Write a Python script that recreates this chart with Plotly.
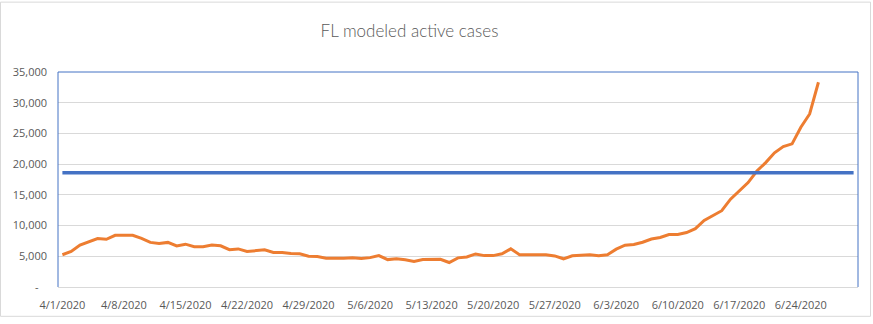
import pandas as pd
import plotly.graph_objects as go

# ---- data ----
dates = [d.strftime("%Y-%m-%d") for d in pd.date_range("2020-04-01", "2020-06-30", freq="D")]

active_cases = [
    5250, 5780, 6840, 7360, 7900, 7760, 8420, 8420, 8420, 7920,
    7260, 7100, 7260, 6680, 6970, 6550, 6550, 6840, 6710, 6070,
    6200, 5780, 5900, 6050, 5620, 5600, 5450, 5420, 5020, 4960,
    4690, 4650, 4660, 4750, 4630, 4780, 5120, 4460, 4590, 4430,
    4170, 4460, 4520, 4520, 3990, 4740, 4880, 5380, 5110, 5110,
    5400, 6210, 5270, 5260, 5260, 5250, 5060, 4590, 5080, 5210,
    5230, 5080, 5260, 6160, 6800, 6930, 7280, 7810, 8070, 8550,
    8550, 8870, 9500, 10830, 11620, 12420, 14300, 15600, 17000, 18880,
    20250, 21840, 22850, 23300, 26000, 28170, 33330,
]
threshold_value = 18600
threshold = [threshold_value] * len(dates)

y_tick_vals = [0, 5000, 10000, 15000, 20000, 25000, 30000, 35000]
y_tick_text = ["-\u00a0\u00a0\u00a0", "5,000", "10,000", "15,000", "20,000", "25,000", "30,000", "35,000"]

title_text = "FL modeled active cases"

# ---- figure ----
fig = go.Figure()
fig.add_trace(go.Scatter(
    x=dates[:len(active_cases)], y=active_cases, mode="lines",
    line=dict(color="#ED7D31", width=3), name="Active cases",
))
fig.add_trace(go.Scatter(
    x=dates, y=threshold, mode="lines",
    line=dict(color="#4472C4", width=3.5), name="Threshold",
))

label_font = dict(family="Open Sans, Lato, sans-serif", size=11, color="#595959")

fig.update_layout(
    width=873, height=324,
    margin=dict(l=58, r=15, t=72, b=32),
    paper_bgcolor="white", plot_bgcolor="white",
    showlegend=False,
    title=dict(
        text=title_text, x=409.5 / 873, xref="container", xanchor="center",
        y=1 - 31 / 324, yref="container", yanchor="middle",
        font=dict(family="Lato, Open Sans, sans-serif", size=17, color="#595959", weight=300),
    ),
    xaxis=dict(
        type="date",
        range=["2020-03-31 12:00", "2020-06-30 12:00"],
        tick0="2020-04-01", dtick=7 * 86400000,
        tickformat="%-m/%-d/%Y",
        showgrid=False, zeroline=False,
        showline=True, linecolor="#d9d9d9", linewidth=1,
        ticks="", tickfont=label_font, ticklabelstandoff=8,
    ),
    yaxis=dict(
        range=[0, 35000],
        tickvals=y_tick_vals, ticktext=y_tick_text,
        showgrid=True, gridcolor="#d9d9d9", gridwidth=1,
        zeroline=False, showline=False,
        ticks="", tickfont=label_font, ticklabelstandoff=10,
    ),
    shapes=[
        dict(type="line", xref="paper", yref="paper", x0=0, x1=0, y0=0, y1=1,
             line=dict(color="#4472C4", width=1)),
        dict(type="line", xref="paper", yref="paper", x0=0, x1=1, y0=1, y1=1,
             line=dict(color="#4472C4", width=1)),
        dict(type="line", xref="paper", yref="paper", x0=1, x1=1, y0=0, y1=1,
             line=dict(color="#4472C4", width=1)),
        dict(type="rect", xref="paper", yref="paper",
             x0=(0.5 - 58) / 800, x1=(870.5 - 58) / 800,
             y0=(292 - 322) / 220, y1=(292 - 0.5) / 220,
             line=dict(color="#d9d9d9", width=1), fillcolor="rgba(0,0,0,0)"),
    ],
)

fig.write_html("out.html")
